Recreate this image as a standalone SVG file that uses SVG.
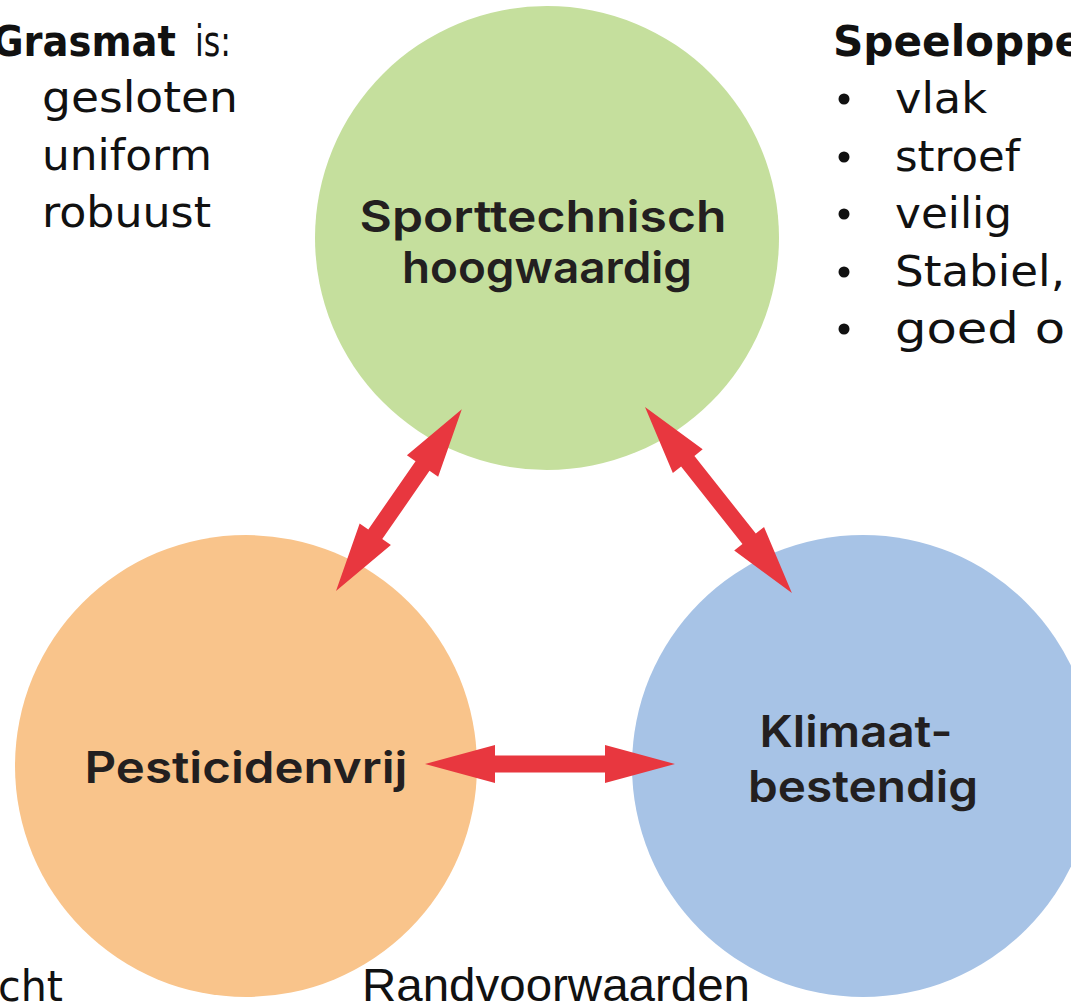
<svg xmlns="http://www.w3.org/2000/svg" width="1071" height="1004" viewBox="0 0 1071 1004">
<style>
.lst{font-family:"DejaVu Sans","Liberation Sans",sans-serif;font-size:43px;fill:#111;}
.b{font-weight:bold;}
.lbl{font-family:Inter,"Liberation Sans",sans-serif;font-weight:600;font-size:44px;fill:#231f20;text-anchor:middle;}
.arr{fill:#E8373F;}
.bul{fill:#111;}
</style>
<rect width="1071" height="1004" fill="#ffffff"/>
<g id="node-sport">
<circle cx="547" cy="238" r="232" fill="#C5DF9D"/>
<text class="lbl" x="543" y="232" textLength="367" lengthAdjust="spacingAndGlyphs">Sporttechnisch</text>
<text class="lbl" x="547" y="283" textLength="290" lengthAdjust="spacingAndGlyphs">hoogwaardig</text>
</g>
<g id="node-pest">
<circle cx="246" cy="766" r="231" fill="#F9C48B"/>
<text class="lbl" x="246" y="783" textLength="323" lengthAdjust="spacingAndGlyphs">Pesticidenvrij</text>
</g>
<g id="node-klimaat">
<circle cx="863" cy="766" r="231" fill="#A7C3E6"/>
<text class="lbl" x="856" y="747" textLength="193" lengthAdjust="spacingAndGlyphs">Klimaat-</text>
<text class="lbl" x="863" y="802" textLength="230" lengthAdjust="spacingAndGlyphs">bestendig</text>
</g>
<g id="connectors">
<path class="arr" transform="translate(336,591) rotate(-55.3)" d="M0,0 L69,-19 L69,-8.5 L152,-8.5 L152,-19 L221,0 L152,19 L152,8.5 L69,8.5 L69,19 Z"/>
<path class="arr" transform="translate(645,407) rotate(51.7)" d="M0,0 L69,-19 L69,-8.5 L168,-8.5 L168,-19 L237,0 L168,19 L168,8.5 L69,8.5 L69,19 Z"/>
<path class="arr" d="M425,764 L495,745 L495,755.5 L605,755.5 L605,745 L675,764 L605,783 L605,772.5 L495,772.5 L495,783 Z"/>
</g>
<g id="text-grasmat">
<text class="lst" y="56"><tspan class="b" x="-8" textLength="184" lengthAdjust="spacingAndGlyphs">Grasmat</tspan><tspan x="195" textLength="36" lengthAdjust="spacingAndGlyphs">is:</tspan></text>
<text class="lst" x="42" y="112" textLength="196" lengthAdjust="spacingAndGlyphs">gesloten</text>
<text class="lst" x="42" y="170" textLength="170" lengthAdjust="spacingAndGlyphs">uniform</text>
<text class="lst" x="42" y="227" textLength="169" lengthAdjust="spacingAndGlyphs">robuust</text>
</g>
<g id="text-speel">
<text class="lst b" x="833" y="56" textLength="250" lengthAdjust="spacingAndGlyphs">Speeloppe</text>
<circle class="bul" cx="844" cy="99" r="5.5"/>
<circle class="bul" cx="844" cy="157" r="5.5"/>
<circle class="bul" cx="844" cy="214" r="5.5"/>
<circle class="bul" cx="844" cy="272" r="5.5"/>
<circle class="bul" cx="844" cy="329" r="5.5"/>
<text class="lst" x="895" y="113" textLength="92" lengthAdjust="spacingAndGlyphs">vlak</text>
<text class="lst" x="895" y="171" textLength="125" lengthAdjust="spacingAndGlyphs">stroef</text>
<text class="lst" x="895" y="228" textLength="117" lengthAdjust="spacingAndGlyphs">veilig</text>
<text class="lst" x="895" y="286" textLength="170" lengthAdjust="spacingAndGlyphs">Stabiel,</text>
<text class="lst" x="895" y="343" textLength="170" lengthAdjust="spacingAndGlyphs">goed o</text>
</g>
<g id="text-bottom">
<text class="lst" x="-2" y="1001" textLength="65" lengthAdjust="spacingAndGlyphs">cht</text>
<text x="362" y="1001" font-family="Liberation Sans, Arial, sans-serif" font-size="47" fill="#111" textLength="388" lengthAdjust="spacingAndGlyphs">Randvoorwaarden</text>
</g>
</svg>
